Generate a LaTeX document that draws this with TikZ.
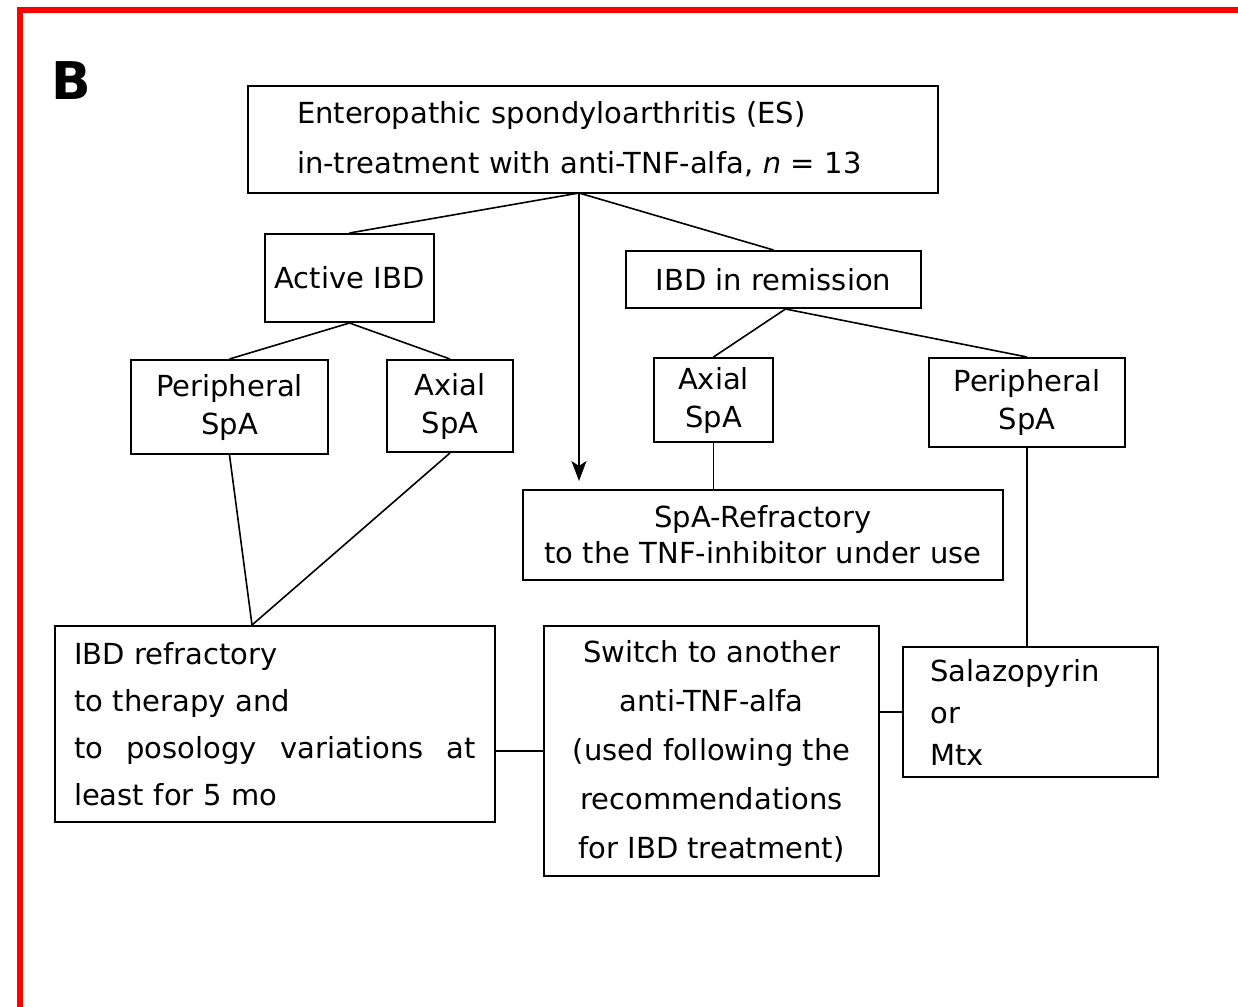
\documentclass[tikz,border=0pt]{standalone}
\usepackage{fontspec}
\setmainfont{DejaVu Sans}
\usetikzlibrary{arrows.meta,positioning,calc}

\tikzset{
  box/.style={draw=black,line width=1pt,inner sep=0pt,align=center},
  link/.style={draw=black,line width=.8pt},
  frame/.style={draw=red,line width=3pt}
}
\newcommand{\txt}[1]{\fontsize{14.5}{#1}\selectfont}

\begin{document}
\begin{tikzpicture}[x=0.5pt,y=-0.5pt]
\useasboundingbox (0,0) rectangle (1238,1007);
% panel frame and letter
\draw[frame] (20,1007) -- (20,10) -- (1238,10);
\node[font=\fontsize{26}{28}\selectfont\bfseries] (panel) at (71,81) {B};

% top row
\node[box,minimum width=345pt,minimum height=53.5pt,text width=296pt,align=left,font=\txt{25pt}]
  (es) at (593,139.5) {Enteropathic spondyloarthritis (ES)\\in-treatment with anti-TNF-alfa, \textit{n} = 13};
\node[box,minimum width=84.5pt,minimum height=44pt,font=\txt{19pt}] (act) at (349.5,278) {Active IBD};
\node[box,minimum width=147.5pt,minimum height=28.5pt,font=\txt{19pt}] (rem) at (773.5,279.5) {IBD in remission};

% SpA boxes
\node[box,minimum width=98.5pt,minimum height=47pt,font=\txt{19pt}] (perL) at (229.5,407) {Peripheral\\SpA};
\node[box,minimum width=63pt,minimum height=46pt,font=\txt{19pt}] (axL) at (450,406) {Axial\\SpA};
\node[box,minimum width=59.5pt,minimum height=42pt,font=\txt{19pt}] (axR) at (713.5,400) {Axial\\SpA};
\node[box,minimum width=98pt,minimum height=44.5pt,font=\txt{19pt}] (perR) at (1027,402.5) {Peripheral\\SpA};

% outcomes
\node[box,minimum width=240pt,minimum height=45pt,font=\txt{18pt}] (refr) at (763,535)
  {SpA-Refractory\\to the TNF-inhibitor under use};
\node[box,minimum width=220pt,minimum height=98pt,text width=201pt,align=left,font=\txt{23.5pt}] (ibdr) at (275,724)
  {IBD refractory\\to therapy and\\\leavevmode\hbox to 201pt{to\hfill posology\hfill variations\hfill at}\\least for 5 mo};
\node[box,minimum width=167.5pt,minimum height=125pt,font=\txt{24.5pt}] (sw) at (711.5,751)
  {Switch to another\\anti-TNF-alfa\\(used following the\\recommendations\\for IBD treatment)};
\node[box,minimum width=127.5pt,minimum height=65pt,text width=100pt,align=left,font=\txt{21pt}] (sal) at (1030.5,712)
  {Salazopyrin\\or\\Mtx};

% connectors
\coordinate (split) at (579,193);
\coordinate (arrtip) at (579,481);
\draw[link] (split) -- (act.north);
\draw[link] (split) -- (rem.north);
\draw[link,-{Stealth[length=10pt,width=7.5pt,inset=2.5pt]}] (split) -- (arrtip);
\draw[link] (act.south) -- (perL.north);
\draw[link] (act.south) -- (axL.north);
\draw[link] ($(rem.south)+(12,0)$) -- (axR.north);
\draw[link] ($(rem.south)+(12,0)$) -- (perR.north);
\coordinate (meet) at ($(ibdr.north west)!0.448!(ibdr.north east)$);
\draw[link] (perL.south) -- (meet);
\draw[link] (axL.south) -- (meet);
\draw[link] (axR.south) -- (axR.south |- refr.north);
\draw[link] (perR.south) -- (perR.south |- sal.north);
\draw[link] ($(sw.north)+(10,0)$) -- ($(sw.north)+(10,0)$ |- refr.south);
\draw[link] (sw.west) -- (sw.west -| ibdr.east);
\draw[link] (sal.west) -- (sal.west -| sw.east);
\end{tikzpicture}
\end{document}
